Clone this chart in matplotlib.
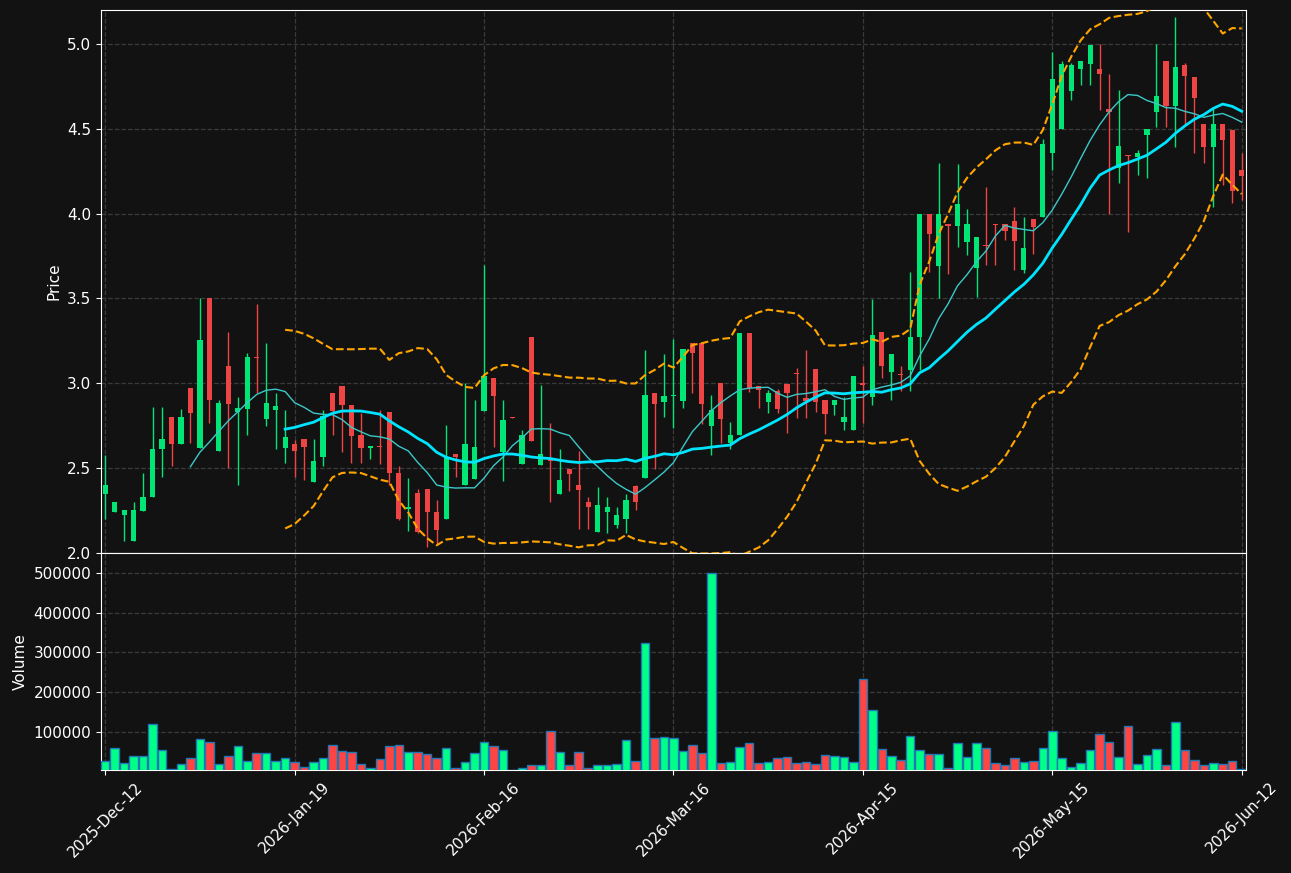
import matplotlib
matplotlib.use('Agg')
import matplotlib.pyplot as plt
import numpy as np
import pandas as pd

# OHLC, one entry per trading day
opens = [2.35, 2.24, 2.225, 2.07, 2.25, 2.33, 2.61, 2.80, 2.64, 2.97,
         2.62, 3.50, 2.60, 3.10, 2.83, 2.85, 3.155, 2.79, 2.84, 2.62,
         2.645, 2.67, 2.42, 2.565, 2.94, 2.985, 2.875, 2.695, 2.62, 2.632,
         2.83, 2.47, 2.262, 2.355, 2.375, 2.24, 2.20, 2.585, 2.40, 2.435,
         2.835, 3.03, 2.595, 2.80, 2.525, 3.275, 2.52, 2.56, 2.35, 2.495,
         2.40, 2.30, 2.125, 2.24, 2.165, 2.20, 2.395, 2.44, 2.945, 2.89,
         2.925, 2.895, 3.235, 3.235, 2.75, 3.00, 2.65, 2.695, 3.295, 2.985,
         2.89, 2.955, 2.995, 3.057, 2.912, 3.085, 2.90, 2.87, 2.77, 2.725,
         3.00, 2.92, 3.30, 3.065, 3.055, 3.08, 3.27, 4.00, 3.69, 3.935,
         3.925, 3.83, 3.68, 3.812, 3.94, 3.94, 3.955, 3.67, 3.97, 3.98,
         4.355, 4.50, 4.725, 4.85, 4.88, 4.855, 4.615, 4.27, 4.343, 4.335,
         4.465, 4.60, 4.90, 4.635, 4.875, 4.805, 4.53, 4.39, 4.53, 4.495,
         4.26]
highs = [2.58, 2.30, 2.255, 2.30, 2.47, 2.86, 2.86, 2.80, 2.85, 2.97,
         3.50, 3.50, 2.90, 3.30, 2.92, 3.18, 3.47, 3.24, 2.94, 2.84,
         2.665, 2.67, 2.67, 2.845, 2.94, 2.985, 2.875, 2.825, 2.63, 2.845,
         2.83, 2.51, 2.44, 2.38, 2.375, 2.31, 2.755, 2.585, 3.00, 2.90,
         3.70, 3.03, 2.90, 2.80, 2.725, 3.275, 2.99, 2.765, 2.61, 2.495,
         2.60, 2.33, 2.39, 2.33, 2.27, 2.345, 2.40, 3.195, 2.945, 3.17,
         3.26, 3.20, 3.235, 3.235, 2.93, 3.00, 2.77, 3.295, 3.295, 2.985,
         2.96, 2.965, 2.995, 3.09, 3.195, 3.085, 2.90, 2.90, 2.92, 3.045,
         3.10, 3.495, 3.30, 3.175, 3.10, 3.655, 4.00, 4.00, 4.30, 3.94,
         4.295, 4.03, 3.86, 4.155, 3.94, 3.94, 4.04, 3.98, 3.97, 4.44,
         4.95, 4.90, 4.885, 4.90, 4.995, 5.00, 4.825, 4.73, 4.345, 4.375,
         4.50, 5.00, 4.90, 5.16, 4.89, 4.805, 4.53, 4.62, 4.53, 4.495,
         4.355]
lows = [2.20, 2.239, 2.07, 2.07, 2.25, 2.33, 2.45, 2.51, 2.64, 2.65,
        2.62, 2.765, 2.60, 2.50, 2.40, 2.695, 2.94, 2.75, 2.61, 2.53,
        2.45, 2.43, 2.42, 2.51, 2.695, 2.595, 2.53, 2.53, 2.555, 2.525,
        2.40, 2.195, 2.13, 2.12, 2.035, 2.05, 2.20, 2.45, 2.40, 2.435,
        2.835, 2.625, 2.425, 2.797, 2.525, 2.66, 2.52, 2.30, 2.35, 2.365,
        2.14, 2.14, 2.125, 2.115, 2.145, 2.12, 2.255, 2.44, 2.495, 2.80,
        2.735, 2.855, 2.94, 2.76, 2.58, 2.65, 2.615, 2.695, 2.95, 2.855,
        2.825, 2.825, 2.71, 2.795, 2.795, 2.83, 2.70, 2.815, 2.725, 2.725,
        2.765, 2.875, 3.03, 2.90, 2.955, 2.955, 3.08, 3.655, 3.50, 3.645,
        3.805, 3.755, 3.51, 3.70, 3.695, 3.845, 3.67, 3.65, 3.76, 3.98,
        4.26, 4.50, 4.67, 4.76, 4.76, 4.61, 4.00, 4.18, 3.89, 4.225,
        4.21, 4.51, 4.51, 4.39, 4.53, 4.36, 4.30, 4.04, 4.17, 4.06,
        4.08]
closes = [2.40, 2.30, 2.255, 2.255, 2.33, 2.61, 2.67, 2.64, 2.80, 2.825,
          3.255, 2.90, 2.885, 2.88, 2.855, 3.155, 3.15, 2.885, 2.865, 2.685,
          2.60, 2.625, 2.545, 2.805, 2.835, 2.87, 2.69, 2.62, 2.63, 2.627,
          2.47, 2.20, 2.27, 2.125, 2.24, 2.135, 2.565, 2.565, 2.645, 2.625,
          3.045, 2.925, 2.785, 2.797, 2.695, 2.66, 2.585, 2.54, 2.43, 2.465,
          2.37, 2.27, 2.28, 2.27, 2.225, 2.315, 2.30, 2.93, 2.88, 2.925,
          2.93, 3.20, 3.18, 2.88, 2.845, 2.79, 2.695, 3.295, 2.975, 2.96,
          2.945, 2.85, 2.94, 3.053, 2.895, 2.89, 2.82, 2.90, 2.80, 3.045,
          2.99, 3.285, 3.10, 3.175, 3.05, 3.275, 4.00, 3.88, 4.00, 3.93,
          4.055, 3.94, 3.86, 3.808, 3.935, 3.90, 3.84, 3.80, 3.92, 4.41,
          4.795, 4.88, 4.875, 4.90, 4.995, 4.82, 4.60, 4.40, 4.34, 4.36,
          4.50, 4.695, 4.635, 4.865, 4.81, 4.68, 4.39, 4.53, 4.435, 4.135,
          4.22]
volumes = [26700, 57900, 20000, 39400, 39400, 118500, 52800, 6500, 17500, 32600,
           80600, 73000, 17500, 37700, 63000, 25000, 45300, 45300, 25000, 32600,
           22500, 11600, 22500, 32600, 65500, 50300, 47800, 17500, 7400, 30100,
           63000, 65500, 47800, 47800, 42700, 32600, 57900, 9000, 22500, 45300,
           73000, 63000, 52800, 3200, 7400, 15000, 15000, 100800, 47800, 15000,
           47800, 9000, 15000, 15000, 17500, 78000, 25000, 323000, 83000, 85700,
           83000, 50300, 65500, 45300, 500000, 20000, 22500, 60400, 70500, 20000,
           22500, 32600, 35200, 20000, 22500, 17500, 40200, 37700, 35200, 22500,
           232000, 156000, 55400, 37700, 27600, 88200, 52800, 42700, 42700, 7400,
           70500, 35200, 70500, 57900, 20000, 15000, 32600, 22500, 25000, 57900,
           100800, 32600, 10000, 20000, 52800, 93300, 73000, 35200, 113500, 17500,
           40200, 55400, 15000, 123600, 52800, 27600, 15000, 20000, 17500, 25000,
           5500]

tick_idx = [0, 20, 40, 60, 80, 100, 120]
tick_labels = ['2025-Dec-12', '2026-Jan-19', '2026-Feb-16', '2026-Mar-16',
               '2026-Apr-15', '2026-May-15', '2026-Jun-12']

bg = '#121212'
up_c = '#00e676'
down_c = '#ef4444'
vol_up = '#00ff88'
vol_down = '#ff4444'

o = np.array(opens)
h = np.array(highs)
l = np.array(lows)
c = np.array(closes)
v = np.array(volumes)
x = np.arange(len(c))
up = c >= o

# moving averages and bollinger bands from the closes
close_s = pd.Series(c)
ma10 = close_s.rolling(10).mean()
ma20 = close_s.rolling(20).mean()
sd20 = close_s.rolling(20).std(ddof=0)
bb_up = ma20 + 2 * sd20
bb_low = ma20 - 2 * sd20

fig = plt.figure(figsize=(12.91, 8.73), dpi=100, facecolor=bg)
ax1 = fig.add_axes([0.0782, 0.36655, 0.8869, 0.622])
ax2 = fig.add_axes([0.0782, 0.11798, 0.8869, 0.24857], sharex=ax1)

for ax in (ax1, ax2):
    ax.set_facecolor(bg)
    for s in ax.spines.values():
        s.set_color('white')
    ax.tick_params(colors='white', labelsize=11)
    ax.grid(True, color='#3a3a3a', linestyle='--', linewidth=0.9)
    ax.set_axisbelow(True)

# candles
colors = np.where(up, up_c, down_c)
ax1.vlines(x, l, h, colors=colors, linewidth=1, zorder=2)
body_h = np.maximum(np.abs(c - o), 0.006)
ax1.bar(x, body_h, bottom=np.minimum(o, c), width=0.55, color=colors, zorder=3)

ax1.plot(x, ma10, color='#3cc8c8', linewidth=1, zorder=4)
ax1.plot(x, ma20, color='#00e5ff', linewidth=2, zorder=4)
ax1.plot(x, bb_up, color='#ffa500', linestyle='--', linewidth=1.5, zorder=4)
ax1.plot(x, bb_low, color='#ffa500', linestyle='--', linewidth=1.5, zorder=4)

ax1.set_ylim(2.0, 5.2)
ax1.set_yticks([2.0, 2.5, 3.0, 3.5, 4.0, 4.5, 5.0])
ax1.set_yticklabels(['2.0', '2.5', '3.0', '3.5', '4.0', '4.5', '5.0'])
ax1.set_ylabel('Price', color='white', fontsize=11)
ax1.tick_params(axis='x', labelbottom=False)

# volume
vcolors = np.where(up, vol_up, vol_down)
ax2.bar(x, v, width=0.9, color=vcolors, edgecolor='#1f77b4', linewidth=1, zorder=3)
ax2.set_ylim(3300, 551000)
ax2.set_yticks([100000, 200000, 300000, 400000, 500000])
ax2.set_yticklabels(['100000', '200000', '300000', '400000', '500000'])
ax2.set_ylabel('Volume', color='white', fontsize=11)

ax2.set_xlim(-0.45, 120.45)
ax2.set_xticks(tick_idx)
ax2.set_xticklabels(tick_labels, rotation=45, ha='center')

fig.savefig('out.png', dpi=100, facecolor=bg)
